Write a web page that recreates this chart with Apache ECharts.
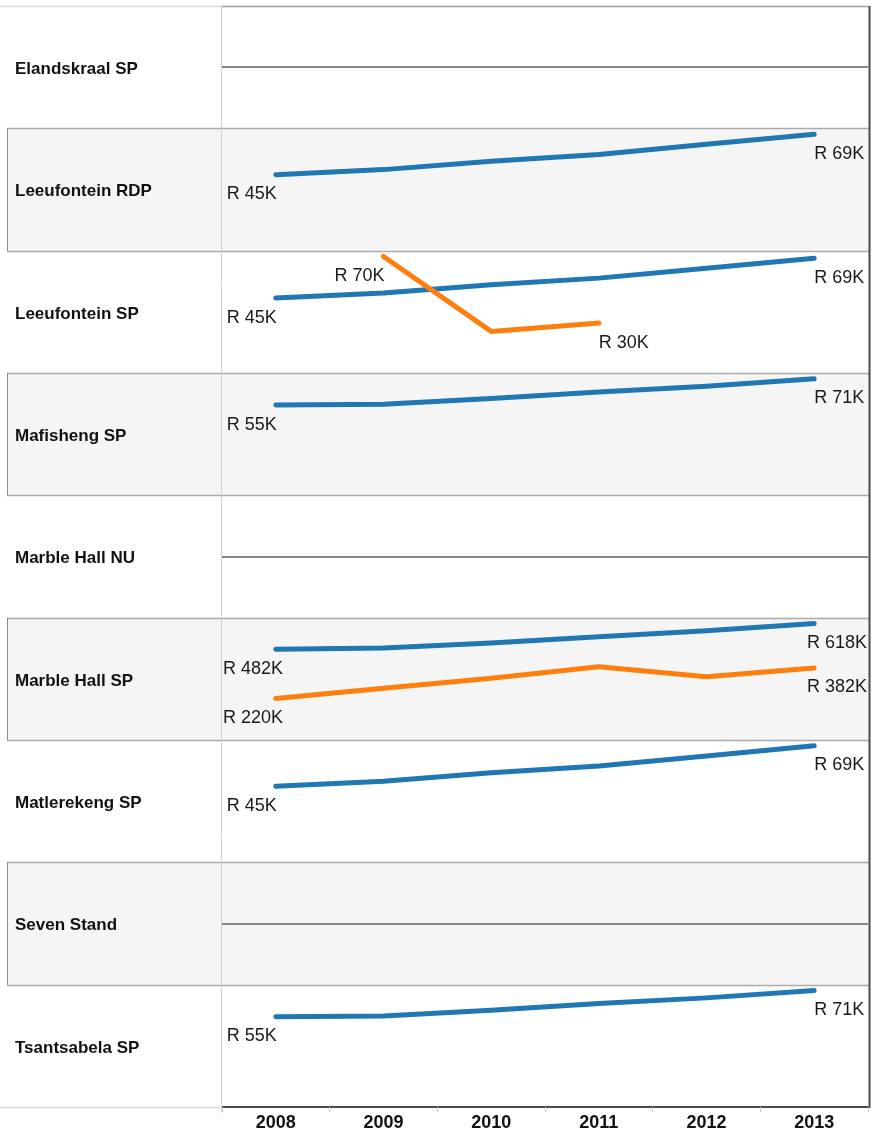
<!DOCTYPE html>
<html>
<head>
<meta charset="utf-8">
<script src="https://cdn.jsdelivr.net/npm/echarts@6/dist/echarts.min.js"></script>
<style>
html,body{margin:0;padding:0;background:#fff;}
#chart{width:872px;height:1133px;}
</style>
</head>
<body>
<div id="chart"></div>
<script>
// ---- data ----
const rowNames = ['Elandskraal SP','Leeufontein RDP','Leeufontein SP','Mafisheng SP','Marble Hall NU','Marble Hall SP','Matlerekeng SP','Seven Stand','Tsantsabela SP'];
const years = ['2008','2009','2010','2011','2012','2013'];
// values in thousands of Rand (K)
const leeufonteinRdpBlue = [45, 48, 53, 57, 63, 69];
const leeufonteinSpBlue = [45, 48, 53, 57, 63, 69];
const leeufonteinSpOrange = [null, 70, 25, 30, null, null];
const mafishengBlue = [55, 55.5, 59, 63, 66.5, 71];
const marbleHallSpBlue = [482, 488, 515, 548, 580, 618];
const marbleHallSpOrange = [220, 275, 328, 388, 335, 382];
const matlerekengBlue = [45, 48, 53, 57, 63, 69];
const tsantsabelaBlue = [55, 55.5, 59, 63, 66.5, 71];

const blueByRow = [null, leeufonteinRdpBlue, leeufonteinSpBlue, mafishengBlue, null, marbleHallSpBlue, matlerekengBlue, null, tsantsabelaBlue];
const orangeByRow = [null, null, leeufonteinSpOrange, null, null, marbleHallSpOrange, null, null, null];

// ---- layout ----
const W = 872, H = 1133;
const top0 = 6, bottom0 = 1107;
const rowH = (bottom0 - top0) / rowNames.length;
const gridLeft = 222, gridRight = 868;
const band = (gridRight - gridLeft) / years.length;
const BLUE = '#1f77b4', ORANGE = '#ff7f0e';
const LABEL_FONT = 18;
const FONT = '"Liberation Sans", Arial, Helvetica, sans-serif';

const cv = document.createElement('canvas').getContext('2d');
cv.font = LABEL_FONT + 'px ' + FONT;
function measure(t){ return cv.measureText(t).width; }

function buildData(arr){
  const idx = [];
  arr.forEach((v,i)=>{ if (v != null) idx.push(i); });
  const first = idx[0], last = idx[idx.length-1];
  return arr.map((v,i)=>{
    if (v == null) return '-';
    if (i === first || i === last){
      const text = 'R ' + Math.round(v) + 'K';
      const w = measure(text);
      const cx = gridLeft + (i + 0.5) * band;
      let off = 0;
      if (i === first){
        if (cx + 1 - w < gridLeft + 1) off = (gridLeft + 1) - (cx + 1 - w);
        off += 1;
        return {value: v, label: {show: true, position: 'bottom', distance: 10, align: 'right', offset: [off, 0], formatter: text}};
      } else {
        if (cx + w > gridRight - 1) off = (gridRight - 1) - (cx + w);
        return {value: v, label: {show: true, position: 'bottom', distance: 10, align: 'left', offset: [off, 0], formatter: text}};
      }
    }
    return v;
  });
}

const grids = [], xAxes = [], yAxes = [], series = [], graphics = [];
rowNames.forEach((name, r)=>{
  const y = top0 + r * rowH;
  const isLast = r === rowNames.length - 1;
  grids.push({left: gridLeft, width: gridRight - gridLeft, top: y, height: rowH, containLabel: false});
  xAxes.push({
    type: 'category', gridIndex: r, data: years, boundaryGap: true,
    show: isLast,
    axisLine: {show: true, lineStyle: {color: '#111', width: 1.5}},
    axisTick: {show: true, length: 5, lineStyle: {color: '#c8c8c8'}},
    axisLabel: {fontFamily: FONT, fontWeight: 'bold', fontSize: 18, color: '#111', margin: 7},
    splitLine: {show: false}
  });
  const b = blueByRow[r], o = orangeByRow[r];
  if (!b && !o){
    yAxes.push({type: 'value', gridIndex: r, min: -1, max: 1, show: false, splitLine: {show: false}});
    series.push({
      type: 'line', xAxisIndex: r, yAxisIndex: r, data: years.map(()=>'-'), symbol: 'none', silent: true,
      markLine: {silent: true, symbol: 'none', label: {show: false},
        lineStyle: {color: '#858585', width: 2, type: 'solid'}, data: [{yAxis: 0}]}
    });
  } else {
    const vals = [].concat(b || [], o || []).filter(v=>v != null);
    const mx = Math.max.apply(null, vals) * 1.05;
    yAxes.push({type: 'value', gridIndex: r, min: 0, max: mx, show: false, splitLine: {show: false}});
    [[b, BLUE], [o, ORANGE]].forEach(([arr, col])=>{
      if (!arr) return;
      series.push({
        type: 'line', xAxisIndex: r, yAxisIndex: r, data: buildData(arr),
        symbol: 'circle', symbolSize: 1, showSymbol: true, connectNulls: false,
        lineStyle: {color: col, width: 5, cap: 'round', join: 'round'},
        itemStyle: {color: col},
        label: {fontFamily: FONT, fontSize: LABEL_FONT, color: '#1a1a1a'},
        emphasis: {disabled: true}, silent: true
      });
    });
  }
  if (r % 2 === 1){
    graphics.push({type: 'rect', z: -10, shape: {x: 7, y: y, width: 862, height: rowH}, style: {fill: '#f5f5f5'}});
    graphics.push({type: 'line', z: 5, shape: {x1: 7.5, y1: y, x2: 7.5, y2: y + rowH}, style: {stroke: '#8a8a8a', lineWidth: 1}});
  }
  graphics.push({type: 'text', z: 10, style: {text: name, x: 15, y: y + rowH / 2 + 2, fontFamily: FONT, fontWeight: 'bold', fontSize: 17, fill: '#111', verticalAlign: 'middle', align: 'left'}});
});

for (let i = 1; i < rowNames.length; i++){
  const y = Math.round(top0 + i * rowH) + 0.5;
  graphics.push({type: 'line', z: 4, shape: {x1: 7, y1: y, x2: 869, y2: y}, style: {stroke: '#ababab', lineWidth: 1.5}});
}
graphics.push({type: 'line', z: 4, shape: {x1: 0, y1: top0 + 0.5, x2: 221, y2: top0 + 0.5}, style: {stroke: '#dcdcdc', lineWidth: 1.5}});
graphics.push({type: 'line', z: 4, shape: {x1: 221, y1: top0 + 0.5, x2: 869, y2: top0 + 0.5}, style: {stroke: '#a0a0a0', lineWidth: 1.5}});
graphics.push({type: 'line', z: 4, shape: {x1: 0, y1: bottom0 + 0.5, x2: 221, y2: bottom0 + 0.5}, style: {stroke: '#dcdcdc', lineWidth: 1.5}});
graphics.push({type: 'line', z: 4, shape: {x1: 221.5, y1: top0, x2: 221.5, y2: bottom0 + 6}, style: {stroke: '#d2d2d2', lineWidth: 1}});
graphics.push({type: 'line', z: 4, shape: {x1: 869.5, y1: top0, x2: 869.5, y2: bottom0 + 1}, style: {stroke: '#4a4a4a', lineWidth: 2}});

const chart = echarts.init(document.getElementById('chart'), null, {renderer: 'canvas', width: W, height: H});
chart.setOption({
  animation: false,
  backgroundColor: '#ffffff',
  grid: grids,
  xAxis: xAxes,
  yAxis: yAxes,
  series: series,
  graphic: {elements: graphics}
});
</script>
</body>
</html>
